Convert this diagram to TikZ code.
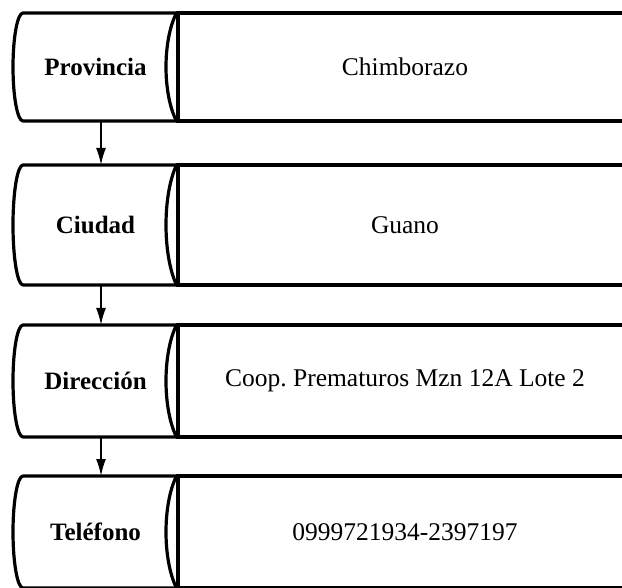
\documentclass[tikz,border=0pt]{standalone}
\usepackage{fontspec}
\setmainfont{Liberation Serif}
\usetikzlibrary{arrows.meta}
\frenchspacing
\begin{document}
\begin{tikzpicture}[x=1pt,y=-1pt,
  field/.style={minimum width=165pt,inner sep=0pt,outer sep=0pt,
    font=\fontsize{25}{30}\selectfont\bfseries},
  value/.style={draw,line width=3.2pt,minimum width=454pt,inner sep=0pt,outer sep=0pt,
    font=\fontsize{25.5}{30}\selectfont},
  outline/.style={line width=3.2pt,line join=round},
  link/.style={line width=1.8pt,-{Latex[length=17pt,width=10pt]}}
]
\useasboundingbox (0,0) rectangle (622,588);
\clip (0,0) rectangle (622,588);

% rows: name, label, value, top, bottom
\foreach \n/\lab/\val/\t/\b in {
    r1/Provincia/Chimborazo/13/121,
    r2/Ciudad/Guano/165/285,
    r3/Dirección/Coop. Prematuros Mzn 12A Lote 2/325/437,
    r4/Teléfono/0999721934-2397197/476/588}{
  \pgfmathsetmacro{\h}{\b-\t}
  \pgfmathsetmacro{\m}{(\t+\b)/2}
  \pgfmathsetmacro{\hh}{\h/2}
  % value box, running off to the right
  \node[value,minimum height=\h pt,anchor=west] (\n v) at (178,\m) {\val};
  % field box: horizontal drum with a curved left end and a lens on the right
  \node[field,minimum height=\h pt] (\n) at (95.5,\m) {\lab};
  \draw[outline] (\n.north east) -- ([xshift=10pt]\n.north west)
    arc[start angle=90,end angle=270,x radius=10pt,y radius=\hh pt]
    -- (\n.south east) -- cycle;
  \draw[outline] ([xshift=-1.5pt]\n.north east)
    .. controls ([xshift=-15.5pt,yshift=-0.25*\h pt]\n.north east)
       and ([xshift=-15.5pt,yshift=0.25*\h pt]\n.south east) .. ([xshift=-1.5pt]\n.south east);
}

% connectors between the fields
\draw[link] ([xshift=5.5pt]r1.south) -- ([xshift=5.5pt]r2.north);
\draw[link] ([xshift=5.5pt]r2.south) -- ([xshift=5.5pt]r3.north);
\draw[link] ([xshift=5.5pt]r3.south) -- ([xshift=5.5pt]r4.north);
\end{tikzpicture}
\end{document}
